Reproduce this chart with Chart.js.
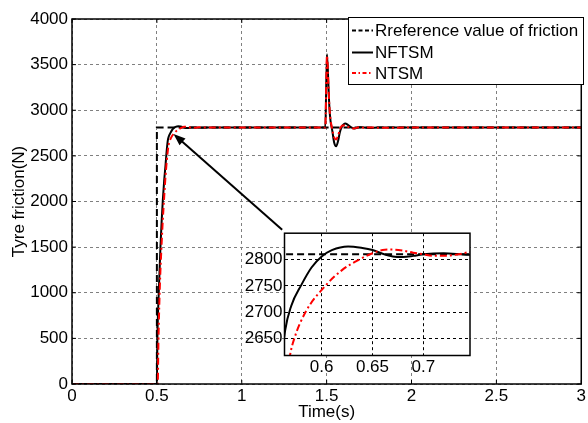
<!DOCTYPE html>
<html>
<head>
<meta charset="utf-8">
<script src="https://cdn.jsdelivr.net/npm/chart.js@4.4.0/dist/chart.umd.min.js"></script>
<style>
html, body { margin: 0; padding: 0; background: #fff; }
#wrap { position: relative; width: 588px; height: 423px; }
#mainChart { position: absolute; left: 0; top: 0; }
#insetChart { position: absolute; left: 230px; top: 221px; }
</style>
</head>
<body>
<div id="wrap">
    <canvas id="mainChart" width="588" height="423"></canvas>
    <canvas id="insetChart" width="250" height="160"></canvas>
</div>
<script>
// Tyre friction response
const refTime = [0, 0.5, 0.5, 3];
const refForce = [0, 0, 2810, 2810];

const nftsmTime = [0, 0.5, 0.503, 0.507, 0.51, 0.515, 0.521, 0.528, 0.535, 0.543, 0.551, 0.558, 0.564, 0.57, 0.58, 0.59, 0.6, 0.61, 0.626, 0.64, 0.65, 0.66, 0.67, 0.68, 0.69, 0.7, 0.72, 0.745, 0.8, 1.0,
    1.492, 1.502, 1.51, 1.516, 1.523, 1.532, 1.545, 1.556, 1.567, 1.578, 1.59, 1.61, 1.625, 1.645, 1.665, 1.69, 1.72, 1.76, 1.8, 2.0, 2.5, 3.0];
const nftsmForce = [0, 0, 500, 800, 950, 1200, 1500, 1780, 2017, 2230, 2400, 2560, 2665, 2712, 2752, 2785, 2806, 2818, 2825, 2822, 2818, 2811, 2806, 2805, 2807, 2810, 2812, 2809, 2810, 2810,
    2810, 3615, 3300, 3040, 2880, 2790, 2640, 2605, 2660, 2760, 2820, 2855, 2840, 2812, 2800, 2815, 2812, 2806, 2812, 2810, 2810, 2810];

const ntsmTime = [0, 0.505, 0.509, 0.514, 0.52, 0.527, 0.535, 0.543, 0.551, 0.558, 0.564, 0.569, 0.573, 0.584, 0.6035, 0.62, 0.637, 0.65, 0.66, 0.67, 0.68, 0.69, 0.7, 0.71, 0.72, 0.735, 0.746, 0.8, 1.0,
    1.492, 1.502, 1.51, 1.516, 1.523, 1.532, 1.545, 1.556, 1.567, 1.578, 1.59, 1.61, 1.63, 1.66, 1.69, 1.72, 1.76, 1.8, 2.0, 2.5, 3.0];
const ntsmForce = [0, 0, 450, 850, 1200, 1500, 1800, 2050, 2280, 2440, 2550, 2620, 2650, 2700, 2750, 2780, 2800, 2812, 2818, 2819, 2817, 2813, 2810, 2807, 2807, 2810, 2814, 2810, 2810,
    2810, 3600, 3300, 3050, 2900, 2800, 2700, 2680, 2720, 2790, 2830, 2835, 2815, 2800, 2815, 2808, 2812, 2808, 2810, 2810, 2810];

const xTicks = [0, 0.5, 1, 1.5, 2, 2.5, 3];
const yTicks = [0, 500, 1000, 1500, 2000, 2500, 3000, 3500, 4000];
const insetXTicks = [0.6, 0.65, 0.7];
const insetYTicks = [2650, 2700, 2750, 2800];

const seriesNames = ['Rreference value of friction', 'NFTSM', 'NTSM'];

// arrow from the zoom box corner to the rise, in data units
const arrowFrom = [1.238, 1690];
const arrowTo = [0.598, 2741];

const FONT = 'Liberation Sans, Arial, sans-serif';
const FONT_SIZE = 17;
const styles = [
    { color: '#000', dash: [7, 4] },
    { color: '#000', dash: [] },
    { color: '#ff0000', dash: [7, 3, 2, 3] }
];

function toPoints(t, v) {
    return t.map((x, i) => ({ x: x, y: v[i] }));
}

function makeDatasets() {
    return [
        { label: seriesNames[0], data: toPoints(refTime, refForce), borderColor: styles[0].color, borderDash: styles[0].dash, borderWidth: 2, pointRadius: 0, tension: 0, order: 3 },
        { label: seriesNames[1], data: toPoints(nftsmTime, nftsmForce), borderColor: styles[1].color, borderWidth: 2, pointRadius: 0, cubicInterpolationMode: 'monotone', order: 2 },
        { label: seriesNames[2], data: toPoints(ntsmTime, ntsmForce), borderColor: styles[2].color, borderDash: styles[2].dash, borderWidth: 2, pointRadius: 0, cubicInterpolationMode: 'monotone', order: 1 }
    ];
}

// frame, inward ticks, arrow and legend for the main axes
const mainDecor = {
    id: 'mainDecor',
    afterDraw(chart) {
        const ctx = chart.ctx;
        const a = chart.chartArea;
        const xs = chart.scales.x, ys = chart.scales.y;
        ctx.save();
        ctx.strokeStyle = '#000';
        ctx.lineWidth = 1.5;
        ctx.setLineDash([]);
        ctx.strokeRect(a.left, a.top, a.right - a.left, a.bottom - a.top);

        ctx.lineWidth = 1;
        ctx.beginPath();
        xTicks.forEach(v => {
            const px = xs.getPixelForValue(v);
            ctx.moveTo(px, a.bottom); ctx.lineTo(px, a.bottom - 4);
            ctx.moveTo(px, a.top); ctx.lineTo(px, a.top + 4);
        });
        yTicks.forEach(v => {
            const py = ys.getPixelForValue(v);
            ctx.moveTo(a.left, py); ctx.lineTo(a.left + 4, py);
            ctx.moveTo(a.right, py); ctx.lineTo(a.right - 4, py);
        });
        ctx.stroke();

        // arrow
        const x1 = xs.getPixelForValue(arrowFrom[0]), y1 = ys.getPixelForValue(arrowFrom[1]);
        const x2 = xs.getPixelForValue(arrowTo[0]), y2 = ys.getPixelForValue(arrowTo[1]);
        const ang = Math.atan2(y2 - y1, x2 - x1);
        ctx.lineWidth = 2;
        ctx.beginPath();
        ctx.moveTo(x1, y1);
        ctx.lineTo(x2 - 8 * Math.cos(ang), y2 - 8 * Math.sin(ang));
        ctx.stroke();
        ctx.fillStyle = '#000';
        ctx.beginPath();
        ctx.moveTo(x2, y2);
        ctx.lineTo(x2 - 12 * Math.cos(ang) + 4.5 * Math.sin(ang), y2 - 12 * Math.sin(ang) - 4.5 * Math.cos(ang));
        ctx.lineTo(x2 - 12 * Math.cos(ang) - 4.5 * Math.sin(ang), y2 - 12 * Math.sin(ang) + 4.5 * Math.cos(ang));
        ctx.closePath();
        ctx.fill();

        // legend box
        const lx = 348, ly = 17, lw = 235, lh = 67;
        ctx.fillStyle = '#fff';
        ctx.fillRect(lx, ly, lw, lh);
        ctx.lineWidth = 1;
        ctx.strokeStyle = '#000';
        ctx.strokeRect(lx + 0.5, ly + 0.5, lw, lh);
        ctx.font = FONT_SIZE + 'px ' + FONT;
        ctx.textBaseline = 'middle';
        ctx.textAlign = 'left';
        const rows = [30.5, 52.5, 73];
        seriesNames.forEach((name, i) => {
            ctx.strokeStyle = styles[i].color;
            ctx.setLineDash(styles[i].dash.length ? [4, 2.5].concat(styles[i].dash.length > 2 ? [1.5, 2.5] : []) : []);
            ctx.lineWidth = 2;
            ctx.beginPath();
            ctx.moveTo(352, rows[i]);
            ctx.lineTo(373, rows[i]);
            ctx.stroke();
            ctx.setLineDash([]);
            ctx.fillStyle = '#000';
            ctx.fillText(name, 375, rows[i] + 1);
        });
        ctx.restore();
    }
};

const insetDecor = {
    id: 'insetDecor',
    beforeDraw(chart) {
        const a = chart.chartArea;
        chart.ctx.save();
        chart.ctx.fillStyle = '#fff';
        chart.ctx.fillRect(a.left, a.top, a.right - a.left, a.bottom - a.top);
        chart.ctx.restore();
    },
    afterDraw(chart) {
        const ctx = chart.ctx;
        const a = chart.chartArea;
        ctx.save();
        ctx.strokeStyle = '#000';
        ctx.lineWidth = 1.5;
        ctx.setLineDash([]);
        ctx.strokeRect(a.left, a.top, a.right - a.left, a.bottom - a.top);
        ctx.restore();
    }
};

function axisOptions(min, max, ticks, gridColor, fit) {
    return {
        type: 'linear',
        min: min,
        max: max,
        afterBuildTicks: s => { s.ticks = ticks.map(v => ({ value: v })); },
        afterFit: fit,
        grid: { color: gridColor, lineWidth: 1, drawTicks: false },
        border: { display: false, dash: [3, 3] },
        ticks: { color: '#000', font: { family: FONT, size: FONT_SIZE }, maxRotation: 0, autoSkip: false, callback: v => String(v) }
    };
}

document.addEventListener('DOMContentLoaded', function() {
    const mainX = axisOptions(0, 3, xTicks, '#808080', s => { s.height = 39; });
    mainX.ticks.padding = 2;
    mainX.title = { display: true, text: 'Time(s)', color: '#000', font: { family: FONT, size: FONT_SIZE }, padding: { top: 0, bottom: 0 } };
    const mainY = axisOptions(0, 4000, yTicks, '#808080', s => { s.width = 72; });
    mainY.ticks.padding = 4;
    mainY.title = { display: true, text: 'Tyre friction(N)', color: '#000', font: { family: FONT, size: FONT_SIZE }, padding: { top: 9, bottom: 0 } };

    new Chart(document.getElementById('mainChart'), {
        type: 'line',
        data: { datasets: makeDatasets() },
        options: {
            responsive: false,
            animation: false,
            layout: { padding: { top: 19, right: 4, left: 0, bottom: 0 } },
            plugins: { legend: { display: false }, tooltip: { enabled: false } },
            scales: { x: mainX, y: mainY }
        },
        plugins: [mainDecor]
    });

    const insetX = axisOptions(0.5634, 0.746, insetXTicks, '#000', s => { s.height = 25.5; });
    insetX.ticks.padding = 2;
    const insetY = axisOptions(2618, 2850, insetYTicks, '#000', s => { s.width = 54.5; });
    insetY.ticks.padding = 2;

    new Chart(document.getElementById('insetChart'), {
        type: 'line',
        data: { datasets: makeDatasets() },
        options: {
            responsive: false,
            animation: false,
            layout: { padding: { top: 8, right: 10, left: 0, bottom: 0 } },
            plugins: { legend: { display: false }, tooltip: { enabled: false } },
            scales: { x: insetX, y: insetY }
        },
        plugins: [insetDecor]
    });
});
</script>
</body>
</html>
